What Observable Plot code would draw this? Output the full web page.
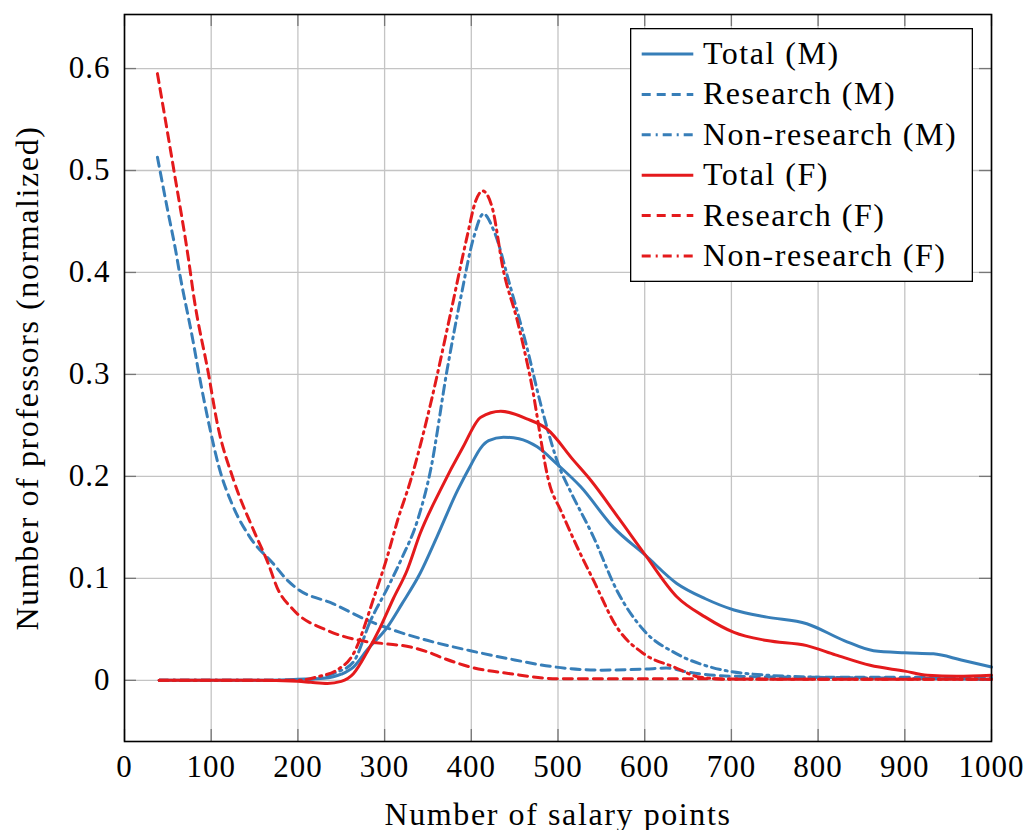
<!DOCTYPE html>
<html><head><meta charset="utf-8">
<script src="https://cdn.jsdelivr.net/npm/d3@7"></script>
<script src="https://cdn.jsdelivr.net/npm/@observablehq/plot@0.6"></script>
<style>
body{margin:0;background:#fff;}
#wrap{position:relative;width:1027px;height:830px;font-family:"Liberation Serif",serif;}
#legend{position:absolute;left:630px;top:28px;}
</style></head><body><div id="wrap"></div>
<script>
// ---- data ----
const totalMX = [40, 100, 150, 200, 230, 250, 264, 280, 303, 320, 341, 360, 384, 400, 411, 420, 437, 455, 476, 499, 526, 564, 601, 637, 670, 703, 741, 787, 830, 864, 900, 933, 965, 1000];
const totalMY = [0, 0, 0, 0.001, 0.002, 0.006, 0.013, 0.03, 0.052, 0.075, 0.105, 0.14, 0.186, 0.212, 0.228, 0.235, 0.2385, 0.237, 0.229, 0.212, 0.19, 0.15, 0.1225, 0.095, 0.08, 0.069, 0.062, 0.0555, 0.039, 0.029, 0.027, 0.026, 0.02, 0.013];

const researchMX = [38, 50, 59, 63, 79, 86, 99, 109, 124, 145, 172, 188, 199, 241, 276, 318, 350, 399, 450, 491, 550, 600, 625, 650, 700, 800, 900, 1000];
const researchMY = [0.513, 0.46, 0.4216, 0.402, 0.333, 0.3, 0.245, 0.209, 0.173, 0.14, 0.114, 0.098, 0.09, 0.075, 0.0605, 0.047, 0.039, 0.029, 0.02, 0.0137, 0.01, 0.011, 0.012, 0.008, 0.004, 0.003, 0.003, 0.003];

const nonResearchMX = [40, 150, 200, 226, 245, 264, 284, 303, 320, 338, 353, 372, 388, 403, 414, 426, 445, 464, 480, 503, 514, 541, 568, 599, 637, 676, 714, 800, 900, 1000];
const nonResearchMY = [0, 0, 0, 0.003, 0.008, 0.018, 0.059, 0.09, 0.12, 0.157, 0.206, 0.304, 0.376, 0.435, 0.4575, 0.441, 0.386, 0.327, 0.271, 0.206, 0.186, 0.1405, 0.088, 0.049, 0.026, 0.013, 0.007, 0.003, 0.002, 0.001];

const totalFX = [40, 100, 150, 200, 215, 234, 250, 264, 280, 295, 310, 326, 341, 364, 390, 411, 434, 464, 487, 518, 538, 570, 601, 637, 670, 703, 741, 787, 820, 860, 900, 926, 960, 1000];
const totalFY = [0, 0, 0, -0.001, -0.002, -0.003, -0.001, 0.0065, 0.028, 0.052, 0.08, 0.108, 0.144, 0.186, 0.228, 0.258, 0.264, 0.2565, 0.2467, 0.2157, 0.196, 0.159, 0.1225, 0.082, 0.062, 0.047, 0.039, 0.034, 0.025, 0.0147, 0.009, 0.005, 0.004, 0.005];

const researchFX = [38, 57, 74, 80, 97, 107, 126, 149, 166, 176, 195, 234, 272, 299, 330, 349, 370, 399, 445, 499, 550, 650, 800, 1000];
const researchFY = [0.595, 0.5, 0.412, 0.376, 0.3, 0.252, 0.196, 0.147, 0.114, 0.091, 0.069, 0.049, 0.039, 0.036, 0.0327, 0.028, 0.021, 0.013, 0.0065, 0.0016, 0.0015, 0.0015, 0.001, 0.001];

const nonResearchFX = [40, 150, 200, 225, 245, 264, 288, 303, 315, 330, 353, 376, 395, 405, 413, 424, 437, 453, 468, 491, 503, 522, 541, 568, 599, 634, 664, 700, 800, 1000];
const nonResearchFY = [0, 0, 0, 0.004, 0.01, 0.026, 0.082, 0.121, 0.157, 0.196, 0.271, 0.3595, 0.4346, 0.47, 0.48, 0.464, 0.402, 0.353, 0.297, 0.19, 0.167, 0.131, 0.098, 0.052, 0.026, 0.013, 0.003, 0.001, 0.001, 0.001];

const seriesNames = ["Total (M)", "Research (M)", "Non-research (M)", "Total (F)", "Research (F)", "Non-research (F)"];
const xTicks = [0, 100, 200, 300, 400, 500, 600, 700, 800, 900, 1000];
const xTickLabels = ["0", "100", "200", "300", "400", "500", "600", "700", "800", "900", "1000"];
const yTicks = [0, 0.1, 0.2, 0.3, 0.4, 0.5, 0.6];
const yTickLabels = ["0", "0.1", "0.2", "0.3", "0.4", "0.5", "0.6"];
const xLabel = "Number of salary points";
const yLabel = "Number of professors (normalized)";

// ---- styling ----
const BLUE = "#377eb8", RED = "#e41a1c";
const DASHED = "9,6", DASHDOT = "9,5,2,5";
const styles = [
  {color: BLUE, dash: null}, {color: BLUE, dash: DASHED}, {color: BLUE, dash: DASHDOT},
  {color: RED, dash: null}, {color: RED, dash: DASHED}, {color: RED, dash: DASHDOT}
];
const xsList = [totalMX, researchMX, nonResearchMX, totalFX, researchFX, nonResearchFX];
const ysList = [totalMY, researchMY, nonResearchMY, totalFY, researchFY, nonResearchFY];
const seriesData = seriesNames.map((name, i) => xsList[i].map((x, j) => ({series: name, x, y: ysList[i][j]})));

const W = 1027, H = 830, mL = 124, mR = 36, mT = 14, mB = 89;
const innerW = W - mL - mR, innerH = H - mT - mB;
const TICKFONT = 31, LABELFONT = 32;

const lineMarks = seriesData.map((d, i) => Plot.line(d, {
  x: "x", y: "y", curve: "monotone-x", stroke: styles[i].color, strokeWidth: 3,
  strokeDasharray: styles[i].dash, strokeLinejoin: "round"
}));

const chart = Plot.plot({
  width: W, height: H,
  marginLeft: mL, marginRight: mR, marginTop: mT, marginBottom: mB,
  style: {fontFamily: '"Liberation Serif", serif', fontSize: TICKFONT + "px", background: "#fff", color: "#000", letterSpacing: "1px"},
  x: {domain: [0, 1000]},
  y: {domain: [-0.06, 0.653]},
  marks: [
    Plot.gridX(xTicks, {stroke: "#c4c4c4", strokeOpacity: 1, strokeWidth: 1.3}),
    Plot.gridY(yTicks, {stroke: "#c4c4c4", strokeOpacity: 1, strokeWidth: 1.3}),
    Plot.tickX(xTicks, {x: d => d, stroke: "#777", strokeWidth: 1.3, insetTop: innerH - 12}),
    Plot.tickX(xTicks, {x: d => d, stroke: "#777", strokeWidth: 1.3, insetBottom: innerH - 12}),
    Plot.tickY(yTicks, {y: d => d, stroke: "#777", strokeWidth: 1.3, insetRight: innerW - 12}),
    Plot.tickY(yTicks, {y: d => d, stroke: "#777", strokeWidth: 1.3, insetLeft: innerW - 12}),
    ...lineMarks,
    Plot.axisX({ticks: xTicks, tickFormat: d => xTickLabels[xTicks.indexOf(d)], tickSize: 0, tickPadding: 13, fontSize: TICKFONT, label: null}),
    Plot.axisY({ticks: yTicks, tickFormat: d => yTickLabels[yTicks.indexOf(d)], tickSize: 0, tickPadding: 14, fontSize: TICKFONT, label: null}),
    Plot.text([xLabel], {text: d => d, frameAnchor: "bottom", dy: 83, fontSize: LABELFONT, fill: "#000", className: "axlabel"}),
    Plot.text([yLabel], {text: d => d, frameAnchor: "left", textAnchor: "middle", lineAnchor: "middle", dx: -97, rotate: -90, fontSize: LABELFONT, fill: "#000", className: "axlabel"}),
    Plot.frame({stroke: "#000", strokeWidth: 1.6})
  ]
});
d3.select(chart).selectAll(".axlabel text").style("letter-spacing", "1.6px");
const wrap = document.getElementById("wrap");
wrap.appendChild(chart);

// ---- legend (overlay inside plot area) ----
const LW = 343, LH = 254;
const legend = d3.create("svg").attr("id", "legend").attr("width", LW).attr("height", LH)
  .style("font-family", '"Liberation Serif", serif');
legend.append("rect").attr("x", 0.65).attr("y", 0.65).attr("width", LW - 1.3).attr("height", LH - 1.3)
  .attr("fill", "#fff").attr("stroke", "#000").attr("stroke-width", 1.3);
seriesNames.forEach((name, i) => {
  const cy = 26 + i * 40.4;
  legend.append("line").attr("x1", 11.7).attr("x2", 63.3).attr("y1", cy).attr("y2", cy)
    .attr("stroke", styles[i].color).attr("stroke-width", 3)
    .attr("stroke-dasharray", styles[i].dash);
  legend.append("text").attr("x", 73).attr("y", cy + 10).attr("font-size", LABELFONT)
    .style("letter-spacing", "1.5px").attr("fill", "#000").text(name);
});
wrap.appendChild(legend.node());
</script></body></html>
